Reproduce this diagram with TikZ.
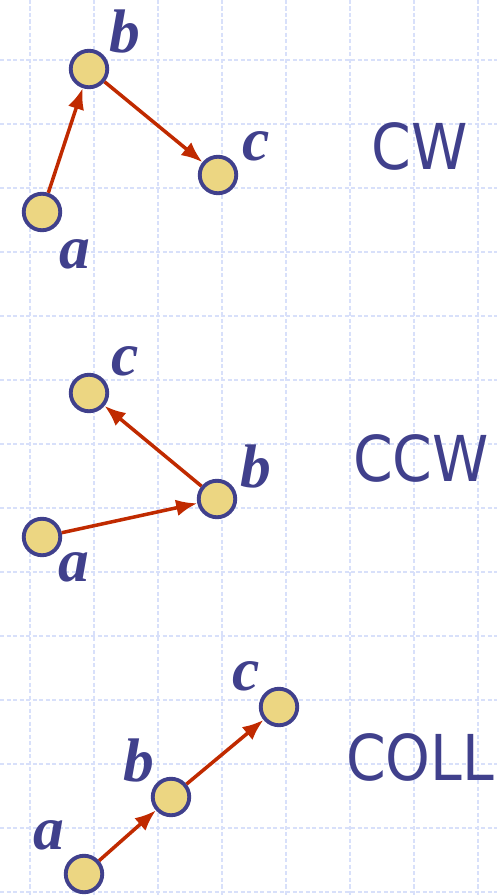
\documentclass[tikz,border=0pt]{standalone}
\usepackage{fontspec}
\setmainfont{Liberation Serif}
\newfontfamily\turnfont{DejaVu Sans Condensed}
\usepackage{xcolor}
\usetikzlibrary{arrows.meta}
\definecolor{ink}{RGB}{64,64,140}
\definecolor{ptfill}{RGB}{236,214,130}
\definecolor{vecred}{RGB}{192,42,0}
\definecolor{gridblue}{RGB}{216,224,250}
\tikzset{
  gridline/.style={draw=gridblue, line width=0.6pt, dash pattern=on 2.5pt off 1.2pt},
  pt/.style={circle, draw=ink, line width=2.2pt, fill=ptfill, minimum size=0.73cm, inner sep=0pt},
  lbl/.style={text=ink, inner sep=0pt, font=\bfseries\itshape\fontsize{35}{35}\selectfont},
  turn/.style={text=ink, inner sep=0pt, font=\turnfont\fontsize{36}{38}\selectfont},
  vec/.style={-{Latex[length=12pt, width=9.5pt]}, line width=2pt, draw=vecred},
}
\begin{document}
\begin{tikzpicture}[x=0.02cm, y=-0.02cm]
\useasboundingbox (0,0) rectangle (497,895);
% background grid
\foreach \gx in {30,94,...,478} \draw[gridline] (\gx,0) -- (\gx,895);
\foreach \gy in {-4,60,...,892} \draw[gridline] (0,\gy) -- (497,\gy);

% clockwise turn
\node[pt] (cwa) at (42,212) {};
\node[pt] (cwb) at (89,69) {};
\node[pt] (cwc) at (218,175) {};
\node[lbl] (cwla) at (75,254) {a};
\node[lbl] (cwlb) at (125,32) {b};
\node[lbl] (cwlc) at (256,146) {c};
\draw[vec] (cwa) -- (cwb);
\draw[vec] (cwb) -- (cwc);
\node[turn] (cw) at (420,146) {CW};

% counter-clockwise turn
\node[pt] (ccwa) at (42,537) {};
\node[pt] (ccwb) at (217,499) {};
\node[pt] (ccwc) at (89,393) {};
\node[lbl] (ccwla) at (74,567) {a};
\node[lbl] (ccwlb) at (256,467) {b};
\node[lbl] (ccwlc) at (125,361) {c};
\draw[vec] (ccwa) -- (ccwb);
\draw[vec] (ccwb) -- (ccwc);
\node[turn] (ccw) at (421,458) {CCW};

% collinear points
\node[pt] (cola) at (84,874) {};
\node[pt] (colb) at (171,797) {};
\node[pt] (colc) at (279,707) {};
\node[lbl] (colla) at (49,835) {a};
\node[lbl] (collb) at (139,761) {b};
\node[lbl] (collc) at (246,676) {c};
\draw[vec] (cola) -- (colb);
\draw[vec] (colb) -- (colc);
\node[turn] (coll) at (420,757) {COLL};
\end{tikzpicture}
\end{document}
